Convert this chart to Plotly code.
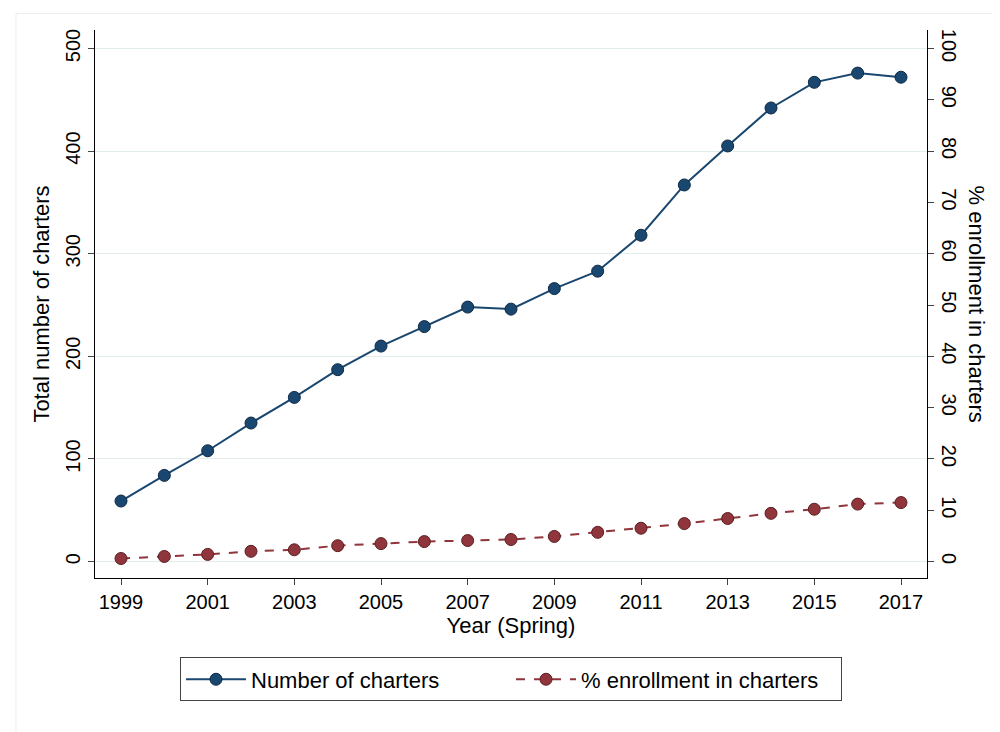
import plotly.graph_objects as go

years = list(range(1999, 2018))
charters = [59, 84, 108, 135, 160, 187, 210, 229, 248, 246, 266, 283, 318, 367, 405, 442, 467, 476, 472]
pct = [0.6, 1.0, 1.4, 2.0, 2.3, 3.1, 3.5, 3.9, 4.1, 4.3, 4.9, 5.7, 6.5, 7.4, 8.4, 9.4, 10.2, 11.2, 11.5]
xticks = list(range(1999, 2018, 2))

navy = "#1a476f"; maroon = "#90353b"
fnt = dict(family="Liberation Sans, Arial", size=20, color="black")

fig = go.Figure()
fig.add_trace(go.Scatter(x=years, y=charters, mode="lines+markers", name="Number of charters",
    line=dict(color=navy, width=2), marker=dict(size=12, color=navy, line=dict(color="#0d2a45", width=1))))
fig.add_trace(go.Scatter(x=years, y=pct, mode="lines+markers", name="% enrollment in charters", yaxis="y2",
    line=dict(color=maroon, width=2, dash="dash"), marker=dict(size=12, color=maroon, line=dict(color="#5a1f23", width=1))))

fig.update_layout(
    width=1000, height=732, paper_bgcolor="white", plot_bgcolor="white", font=fnt,
    margin=dict(l=87, r=81, t=22, b=162, autoexpand=False),
    xaxis=dict(range=[1998.4, 2017.6], tickvals=xticks, showgrid=False, showline=True, linecolor="black",
               ticks="outside", ticklen=6, zeroline=False, title=dict(text="Year (Spring)", standoff=2)),
    yaxis=dict(range=[-16, 518], tickvals=[0,100,200,300,400,500], tickangle=-90, showline=True, linecolor="black",
               ticks="outside", ticklen=6, gridcolor="#e3edee", zeroline=False,
               title=dict(text="Total number of charters", standoff=6)),
    yaxis2=dict(range=[-3.2, 103.6], overlaying="y", side="right", tickvals=list(range(0,101,10)), tickangle=90,
                showline=True, linecolor="black", ticks="outside", ticklen=6, showgrid=False, zeroline=False),
    legend=dict(orientation="h", x=0.5, xanchor="center", y=-0.145, yanchor="top", bordercolor="#444", borderwidth=1,
                font=dict(size=22), itemwidth=60, entrywidth=255),
    annotations=[dict(text="% enrollment in charters", textangle=90, x=1.078, xref="paper", y=0.5, yref="paper",
                      showarrow=False, font=dict(size=22))],
    shapes=[dict(type="rect", xref="paper", yref="paper", x0=-0.095, x1=1.1, y0=-0.29, y1=1.03,
                 line=dict(color="#eeeeee", width=1))],
)
fig.update_xaxes(title_font=dict(size=22))
fig.update_yaxes(title_font=dict(size=22))
fig.write_html("out.html")
